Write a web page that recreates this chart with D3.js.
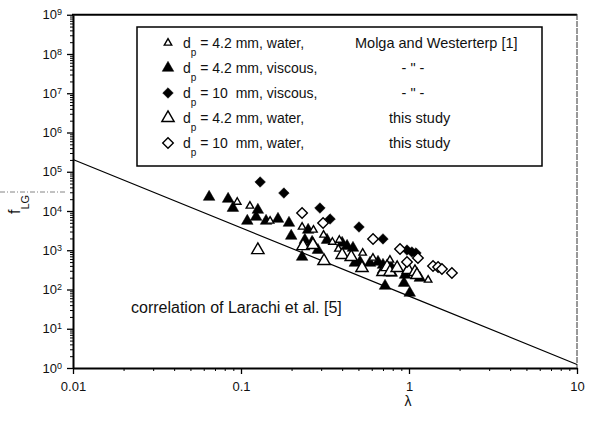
<!DOCTYPE html>
<html>
<head>
<meta charset="utf-8">
<script src="https://cdn.jsdelivr.net/npm/d3@7"></script>
<style>
  body { margin: 0; background: #fff; }
  svg { font-family: "Liberation Sans", Arial, sans-serif; }
  text { white-space: pre; }
</style>
</head>
<body>
<div id="chart"></div>
<script>
// values (lambda, f_LG)
const molgaWaterLam = [0.095, 0.113, 0.149, 0.231, 0.27, 0.31, 0.35, 0.385, 0.38, 0.53, 0.61, 0.77, 1.30];
const molgaWaterF   = [16900, 13400, 5560, 3910, 3280, 2450, 1620, 1820, 1080, 851, 635, 564, 175];

const molgaVisc42Lam = [0.0646, 0.0838, 0.0895, 0.126, 0.123, 0.109, 0.141, 0.166, 0.193, 0.199, 0.251, 0.24, 0.265,
                        0.325, 0.287, 0.231, 0.40, 0.428, 0.464, 0.476, 0.511, 0.586, 0.654, 0.70, 0.72, 0.70,
                        0.77, 0.79, 0.947, 1.16, 0.934, 1.01];
const molgaVisc42F   = [22700, 20200, 11900, 10600, 7030, 5560, 5560, 6250, 4950, 2310, 3280, 1820, 1620,
                        1820, 1010, 673, 1530, 1280, 1140, 473, 502, 473, 502, 421, 123, 314,
                        421, 263, 234, 196, 146, 81.5];

const molgaVisc10Lam = [0.13, 0.18, 0.295, 0.339, 0.504, 0.70, 0.973, 1.04, 1.10];
const molgaVisc10F   = [54800, 28700, 11900, 6250, 3910, 1940, 1010, 903, 851];

const studyWater42Lam = [0.126, 0.234, 0.268, 0.312, 0.40, 0.453, 0.525, 0.70, 0.74, 0.77, 0.85, 0.99, 1.085, 1.115];
const studyWater42F   = [1010, 1280, 1360, 532, 757, 673, 353, 279, 374, 279, 353, 314, 279, 234];

const studyWater10Lam = [0.231, 0.308, 0.611, 0.884, 1.13, 0.973, 1.39, 1.49, 1.57, 1.80];
const studyWater10F   = [8890, 4950, 1940, 1080, 635, 502, 397, 374, 333, 263];

// correlation of Larachi et al.
const corrLam = [0.01, 1, 10];
const corrF   = [206000, 68, 1.23];

const xTickVals = [0.01, 0.1, 1, 10];
const xTickLabels = ["0.01", "0.1", "1", "10"];
const yTickExps = [0, 1, 2, 3, 4, 5, 6, 7, 8, 9];

const legendLeft = ["= 4.2 mm, water,", "= 4.2 mm, viscous,", "= 10  mm, viscous,", "= 4.2 mm, water,", "= 10  mm, water,"];
const legendRight = ["Molga and Westerterp [1]", "- \" -", "- \" -", "this study", "this study"];

const W = 592, H = 425;
const svg = d3.select("#chart").append("svg").attr("width", W).attr("height", H);

const x = d3.scaleLog().domain([0.01, 10]).range([73, 577]);
const y = d3.scaleLog().domain([1, 1e9]).range([368, 14.75]);

// minor ticks 2..9 in each decade
const xMinor = [];
for (let k = -2; k < 1; k++) for (let m = 2; m < 10; m++) xMinor.push(m * Math.pow(10, k));
const yMinor = [];
for (let k = 0; k < 9; k++) for (let m = 2; m < 10; m++) yMinor.push(m * Math.pow(10, k));

svg.append("g").attr("transform", "translate(0,368)")
   .call(d3.axisBottom(x).tickValues(xMinor).tickSize(3).tickFormat(""))
   .call(g => g.select(".domain").remove());
svg.append("g").attr("transform", "translate(73,0)")
   .call(d3.axisLeft(y).tickValues(yMinor).tickSize(3).tickFormat(""))
   .call(g => g.select(".domain").remove());

const gx = svg.append("g").attr("transform", "translate(0,368)")
   .call(d3.axisBottom(x).tickValues(xTickVals).tickSize(6).tickSizeOuter(0).tickPadding(8)
         .tickFormat((d, i) => xTickLabels[i]));
gx.selectAll("text").attr("font-size", "13px").attr("fill", "#111").attr("font-family", "Liberation Sans, Arial, sans-serif");

const gy = svg.append("g").attr("transform", "translate(73,0)")
   .call(d3.axisLeft(y).tickValues(yTickExps.map(e => Math.pow(10, e))).tickSize(6).tickSizeOuter(0).tickPadding(5));
gy.selectAll(".tick text").each(function(d) {
  const t = d3.select(this);
  const e = Math.round(Math.log10(d));
  t.text(null).attr("font-size", "13px").attr("fill", "#111").attr("font-family", "Liberation Sans, Arial, sans-serif");
  t.append("tspan").text("10");
  t.append("tspan").attr("dy", "-0.45em").attr("font-size", "9px").text(e);
});

[gx, gy].forEach(g => {
  g.select(".domain").attr("stroke-width", 2);
  g.selectAll(".tick line").attr("stroke-width", 1.3);
});

// frame top and right
svg.append("line").attr("x1", 72).attr("x2", 577).attr("y1", 14.75).attr("y2", 14.75)
   .attr("stroke", "#000").attr("stroke-width", 2);
svg.append("line").attr("x1", 577).attr("x2", 577).attr("y1", 14).attr("y2", 368)
   .attr("stroke", "#333").attr("stroke-width", 1).attr("stroke-dasharray", "6,1");

// correlation line
const corr = corrLam.map((l, i) => [l, corrF[i]]);
svg.append("path").datum(corr)
   .attr("fill", "none").attr("stroke", "#000").attr("stroke-width", 1.2)
   .attr("d", d3.line().x(d => x(d[0])).y(d => y(d[1])));

svg.append("text").attr("x", 131).attr("y", 313).attr("font-size", "16px").attr("fill", "#111")
   .text("correlation of Larachi et al. [5]");

// markers
const triSmall = d3.symbol().type(d3.symbolTriangle).size(24);
const triBig = d3.symbol().type(d3.symbolTriangle).size(66);
const triFill = d3.symbol().type(d3.symbolTriangle).size(58);
const sq = d3.symbol().type(d3.symbolSquare).size(56);

function drawSeries(lam, f, path, filled, rot) {
  svg.append("g").selectAll("path")
     .data(lam.map((l, i) => [l, f[i]]))
     .join("path")
     .attr("d", path)
     .attr("transform", d => `translate(${x(d[0])},${y(d[1])})` + (rot ? " rotate(45)" : ""))
     .attr("fill", filled ? "#000" : "#fff")
     .attr("stroke", "#000")
     .attr("stroke-width", filled ? 0.5 : 1.4);
}
drawSeries(molgaVisc42Lam, molgaVisc42F, triFill, true, false);
drawSeries(molgaVisc10Lam, molgaVisc10F, sq, true, true);
drawSeries(molgaWaterLam, molgaWaterF, triSmall, false, false);
drawSeries(studyWater42Lam, studyWater42F, triBig, false, false);
drawSeries(studyWater10Lam, studyWater10F, sq, false, true);

// legend
svg.append("rect").attr("x", 137).attr("y", 27).attr("width", 405).attr("height", 139)
   .attr("fill", "#fff").attr("stroke", "#000").attr("stroke-width", 1.5);
const legSyms = [[triSmall, false, false], [triFill, true, false], [sq, true, true], [triBig, false, false], [sq, false, true]];
const rightX = [355, 413, 413, 389, 389];
const rightAnchor = ["start", "middle", "middle", "start", "start"];
legendLeft.forEach((txt, i) => {
  const cy = 43 + i * 25;
  const s = legSyms[i];
  svg.append("path").attr("d", s[0])
     .attr("transform", `translate(168,${cy})` + (s[2] ? " rotate(45)" : ""))
     .attr("fill", s[1] ? "#000" : "#fff").attr("stroke", "#000").attr("stroke-width", s[1] ? 0.5 : 1.4);
  const t = svg.append("text").attr("x", 183).attr("y", cy + 5).attr("font-size", "14px").attr("fill", "#111");
  t.append("tspan").text("d");
  t.append("tspan").attr("dy", 8).attr("font-size", "10px").text("p");
  t.append("tspan").attr("dy", -8).text(" " + txt);
  svg.append("text").attr("x", rightX[i]).attr("y", cy + 5).attr("text-anchor", rightAnchor[i])
     .attr("font-size", "14.5px").attr("fill", "#111").text(legendRight[i]);
});

// axis titles
svg.append("text").attr("x", 408).attr("y", 406).attr("text-anchor", "middle")
   .attr("font-size", "14px").attr("fill", "#111").text("λ");
const yl = svg.append("text").attr("transform", "translate(20,214) rotate(-90)")
   .attr("font-size", "16px").attr("fill", "#111");
yl.append("tspan").text("f");
yl.append("tspan").attr("dy", 9).attr("font-size", "11px").text("LG");
// scan streak near the y title
svg.append("line").attr("x1", 0).attr("x2", 66).attr("y1", 192).attr("y2", 192)
   .attr("stroke", "#666").attr("stroke-width", 0.8).attr("stroke-dasharray", "5,2,1,2");
</script>
</body>
</html>
